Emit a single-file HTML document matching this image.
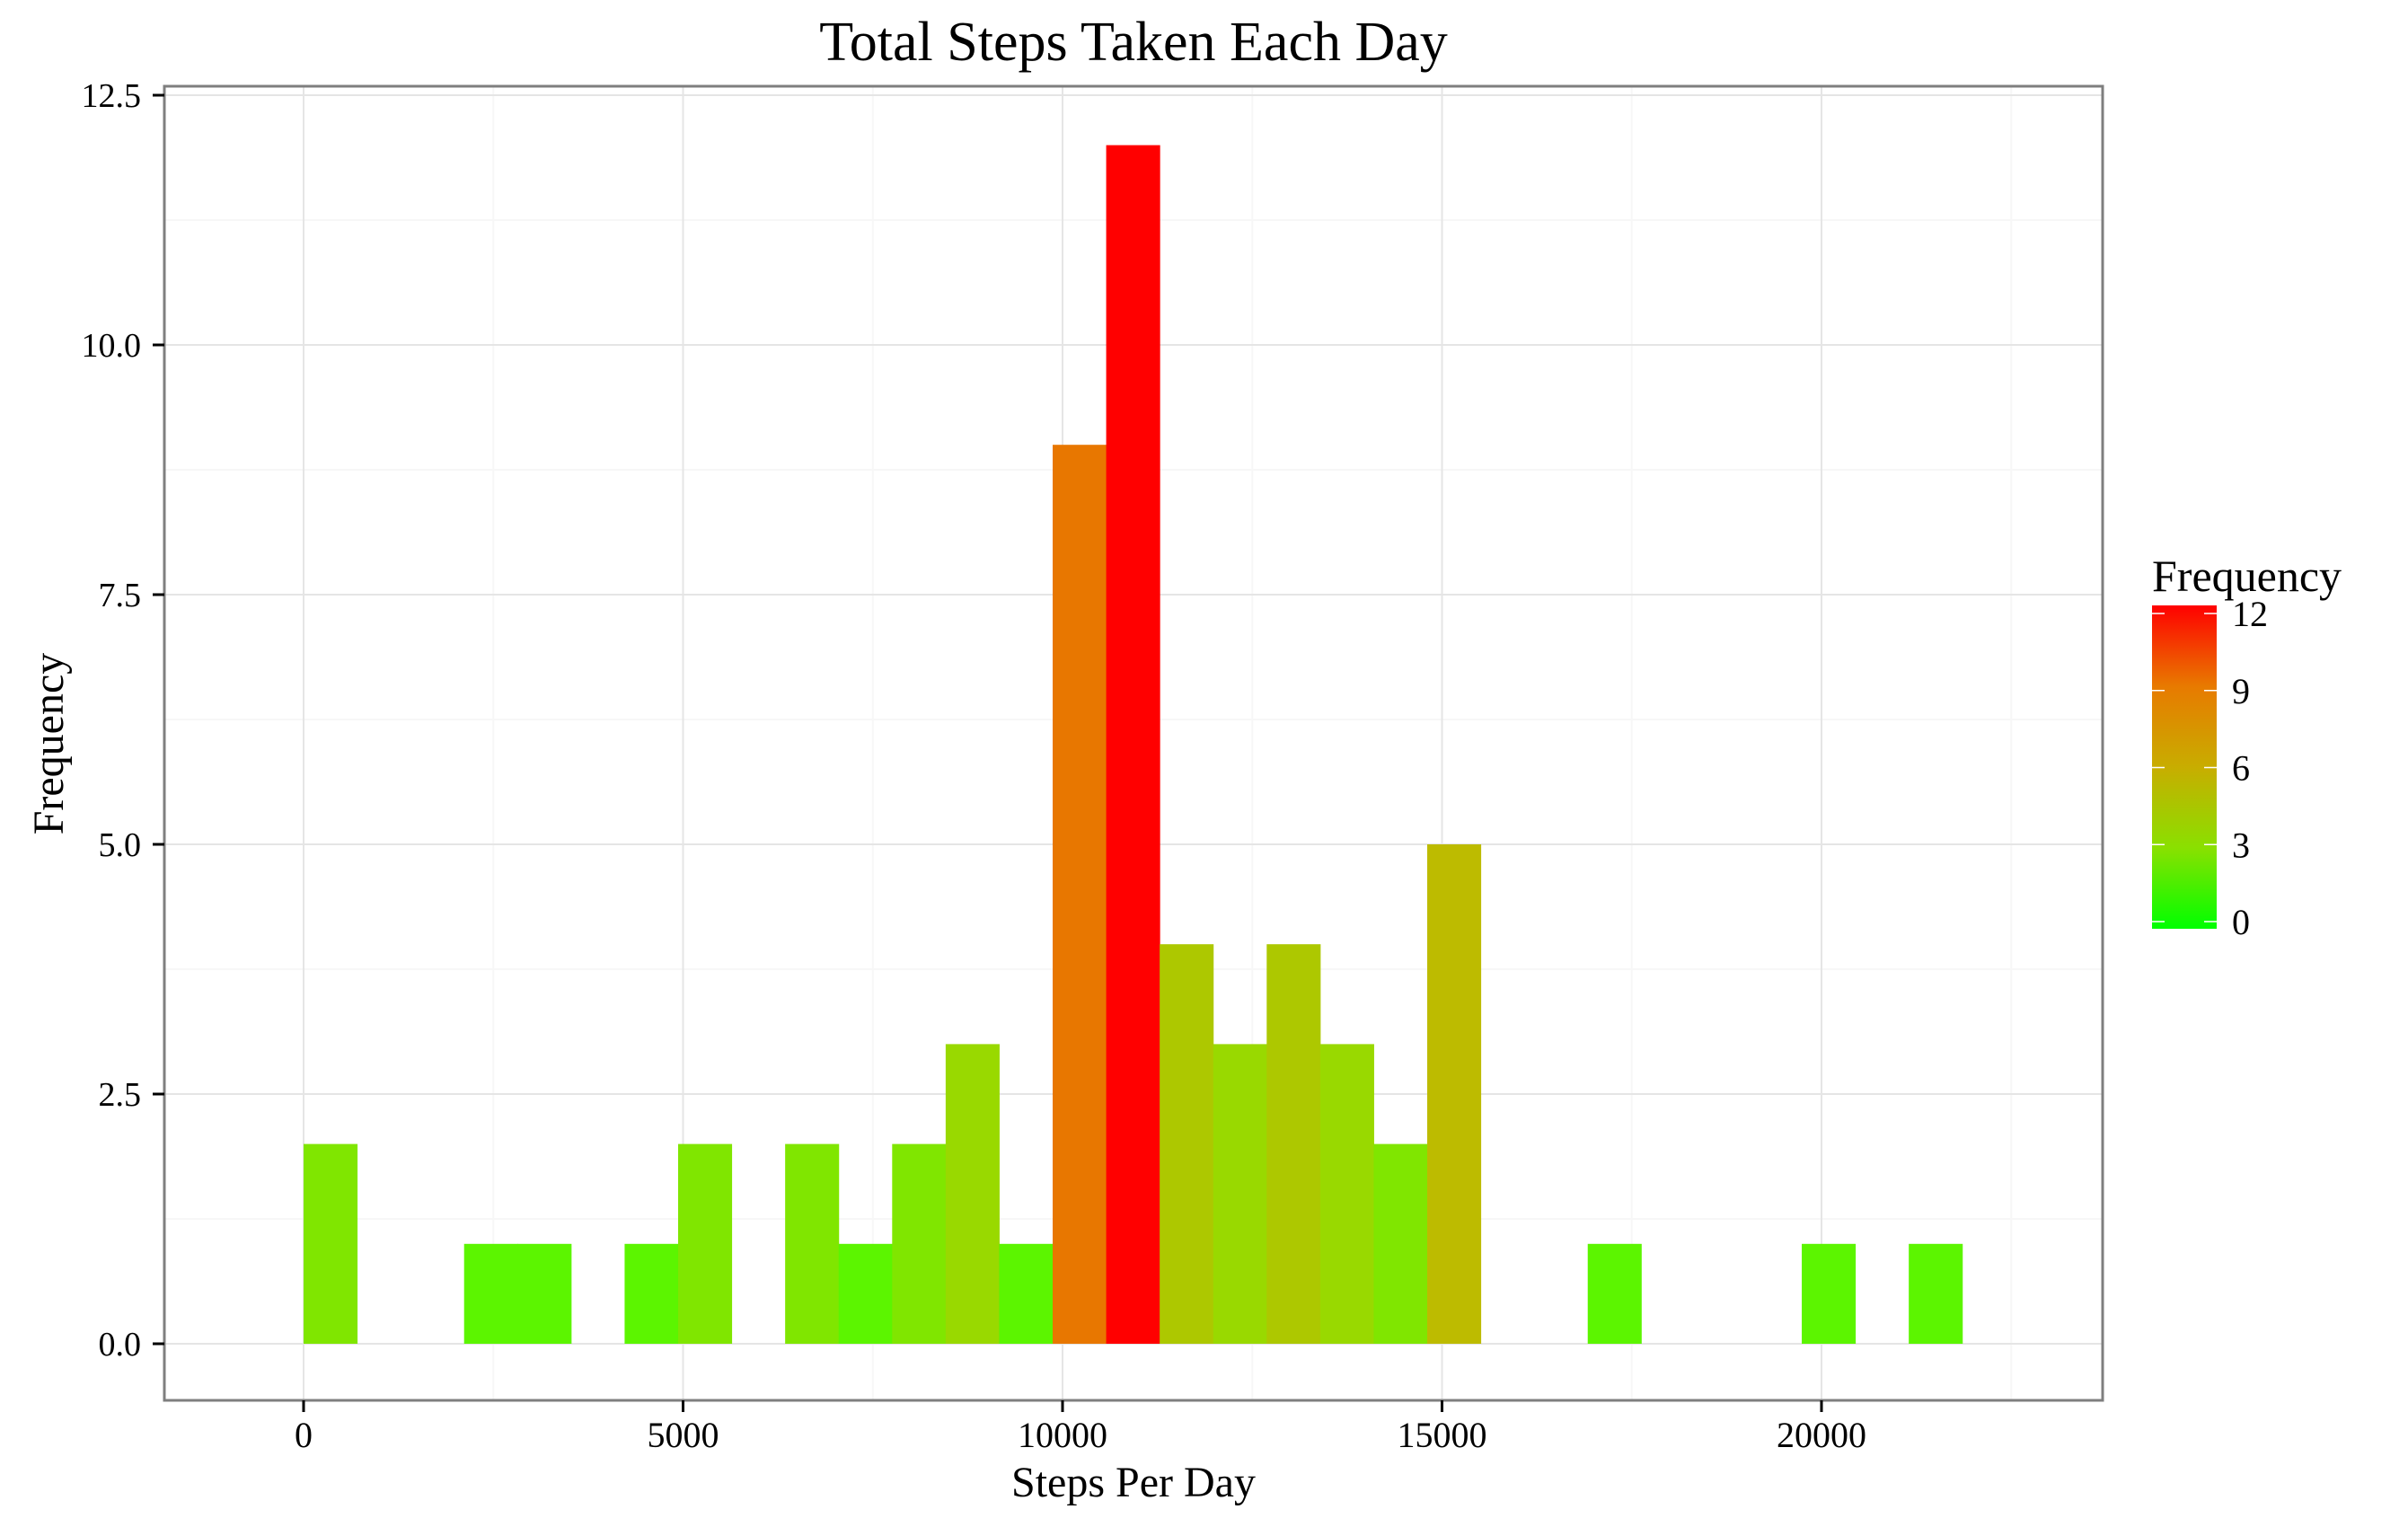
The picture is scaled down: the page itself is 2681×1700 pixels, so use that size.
<!DOCTYPE html>
<html><head><meta charset="utf-8"><title>Total Steps Taken Each Day</title>
<style>html,body{margin:0;padding:0;background:#fff;}svg{display:block;font-family:"Liberation Serif",serif;}</style>
</head><body>
<svg id="chart" width="2681" height="1700" viewBox="0 0 2681 1700" xmlns="http://www.w3.org/2000/svg">
<defs><linearGradient id="lg" x1="0" y1="1" x2="0" y2="0">
<stop offset="0" stop-color="#00FF00"/><stop offset="0.25" stop-color="#8AE000"/><stop offset="0.5" stop-color="#C8AD00"/><stop offset="0.75" stop-color="#E87A00"/><stop offset="1" stop-color="#FF0000"/></linearGradient></defs>
<rect x="0" y="0" width="2681" height="1700" fill="#fff"/>
<g id="grid"></g><g id="bars"></g><g id="axes"></g>
<text x="1262" y="67" font-size="62" text-anchor="middle">Total Steps Taken Each Day</text>
<text x="1262" y="1666" font-size="48" text-anchor="middle">Steps Per Day</text>
<text x="0" y="0" font-size="48" text-anchor="middle" transform="translate(70,828) rotate(-90)">Frequency</text>
<g>
<text x="2396" y="658" font-size="50">Frequency</text>
<rect x="2396" y="674" width="72" height="360" fill="url(#lg)"/>
<g id="legendticks"></g>
</g>
</svg>
<script>
const binStart = [0,705,1410,2115,2820,3525,4230,4935,5640,6345,7050,7755,8460,9165,9870,10575,11280,11985,12690,13395,14100,14805,15510,16215,16920,17625,18330,19035,19740,20445,21150];
const counts = [2,0,0,1,1,0,1,2,0,2,1,2,3,1,9,12,4,3,4,3,2,5,0,0,1,0,0,0,1,0,1];
const binWidth = 705;
const xTicks = [0,5000,10000,15000,20000];
const xTickLabels = ["0","5000","10000","15000","20000"];
const yTicks = [0,2.5,5,7.5,10,12.5];
const yTickLabels = ["0.0","2.5","5.0","7.5","10.0","12.5"];
const legendTicks = [0,3,6,9,12];
const fillByCount = ["#00FF00","#5CF500","#80E600","#99D900","#ADC800","#BDBB00","#C8AD00","#D59C00","#E08A00","#E87700","#EF5C00","#F73A00","#FF0000"];

const NS="http://www.w3.org/2000/svg";
const PL=183,PR=2341,PT=96,PB=1559;
const x=v=>338+v*0.0845;
const y=v=>1496-v*111.2;
function mk(tag,attrs,parent,txt){const e=document.createElementNS(NS,tag);for(const k in attrs)e.setAttribute(k,attrs[k]);if(txt!==undefined)e.textContent=txt;parent.appendChild(e);return e;}
const grid=document.getElementById('grid'),bars=document.getElementById('bars'),axes=document.getElementById('axes'),lt=document.getElementById('legendticks');
let pr=mk('rect',{x:PL,y:PT,width:PR-PL,height:PB-PT,fill:'#fff'},grid);


for(let i=0;i<xTicks.length;i++){const v=xTicks[i]+2500;if(x(v)<PR){let l=mk('line',{x1:x(v),x2:x(v),y1:PT,y2:PB,stroke:'#F7F7F7','stroke-width':2},grid);

}}
for(let i=0;i<yTicks.length-1;i++){const v=yTicks[i]+1.25;let l=mk('line',{x1:PL,x2:PR,y1:y(v),y2:y(v),stroke:'#F7F7F7','stroke-width':2},grid);

}
for(let i=0;i<xTicks.length;i++){let l=mk('line',{x1:x(xTicks[i]),x2:x(xTicks[i]),y1:PT,y2:PB,stroke:'#E5E5E5','stroke-width':2},grid);

}
for(let i=0;i<yTicks.length;i++){let l=mk('line',{x1:PL,x2:PR,y1:y(yTicks[i]),y2:y(yTicks[i]),stroke:'#E5E5E5','stroke-width':2},grid);

}
for(let i=0;i<counts.length;i++){if(counts[i]<=0)continue;const x0=x(binStart[i]),x1=x(binStart[i]+binWidth);
let r=mk('rect',{x:x0,y:y(counts[i]),width:x1-x0+0.5,height:y(0)-y(counts[i]),fill:fillByCount[Math.round(counts[i])]||'#FF0000'},bars);

}
let b=mk('rect',{x:PL,y:PT,width:PR-PL,height:PB-PT,fill:'none',stroke:'#7F7F7F','stroke-width':3},axes);


for(let i=0;i<xTicks.length;i++){const xx=x(xTicks[i]);
let t=mk('line',{x1:xx,x2:xx,y1:PB,y2:PB+13,stroke:'#000','stroke-width':3},axes);


let tx=mk('text',{x:xx,y:1611,'font-size':40,'text-anchor':'middle'},axes,xTickLabels[i]);

}
for(let i=0;i<yTicks.length;i++){const yy=y(yTicks[i]);
let t=mk('line',{x1:PL-13,x2:PL,y1:yy,y2:yy,stroke:'#000','stroke-width':3},axes);


let tx=mk('text',{x:157,y:yy+13,'font-size':38,'text-anchor':'end'},axes,yTickLabels[i]);

}
const ly=v=>1026-v*(1026-683)/12;
for(let i=0;i<legendTicks.length;i++){const yy=ly(legendTicks[i]);
mk('line',{x1:2396,x2:2410,y1:yy,y2:yy,stroke:'#fff','stroke-width':1.5},lt);
mk('line',{x1:2454,x2:2468,y1:yy,y2:yy,stroke:'#fff','stroke-width':1.5},lt);
let tx=mk('text',{x:2485,y:yy+14,'font-size':40},lt,String(legendTicks[i]));

}
</script>
</body></html>
